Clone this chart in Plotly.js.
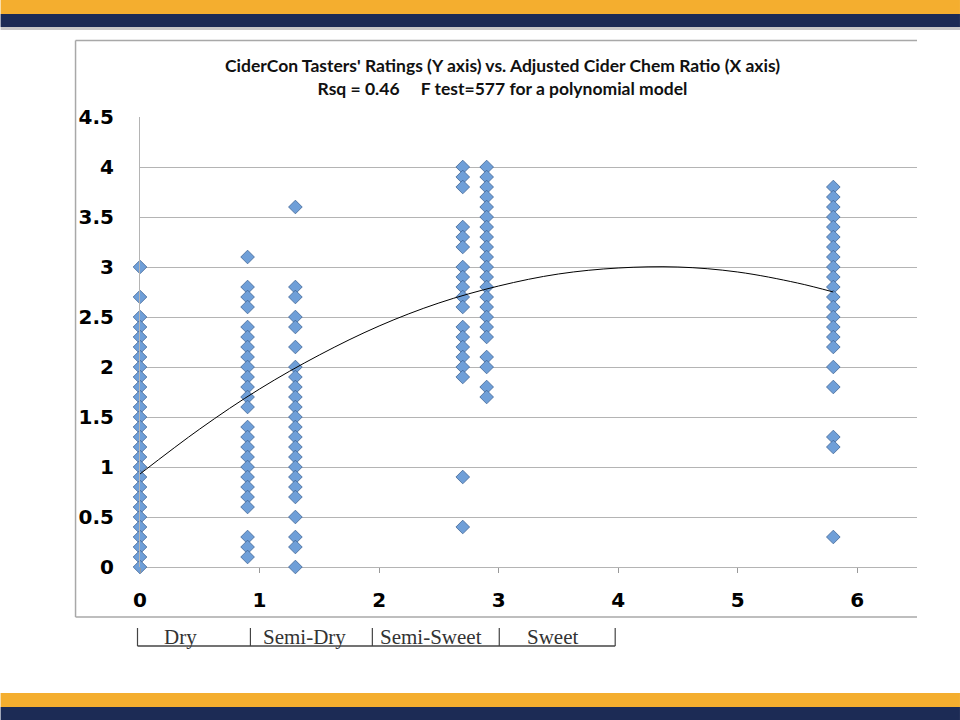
<!DOCTYPE html>
<html>
<head>
<meta charset="utf-8">
<script src="https://cdn.plot.ly/plotly-3.0.1.min.js"></script>
<style>html,body{margin:0;padding:0;background:#fff;}#chart{width:960px;height:720px;}</style>
</head>
<body>
<div id="chart"></div>
<script>
// Column positions (Adjusted Cider Chem Ratio) and tasters' ratings
const ratio0 = 0;
const ratings0 = [3.0,2.7,2.5,2.4,2.3,2.2,2.1,2.0,1.9,1.8,1.7,1.6,1.5,1.4,1.3,1.2,1.1,1.0,0.9,0.8,0.7,0.6,0.5,0.4,0.3,0.2,0.1,0.0];
const ratio1 = 0.9;
const ratings1 = [3.1,2.8,2.7,2.6,2.4,2.3,2.2,2.1,2.0,1.9,1.8,1.7,1.6,1.4,1.3,1.2,1.1,1.0,0.9,0.8,0.7,0.6,0.3,0.2,0.1];
const ratio2 = 1.3;
const ratings2 = [3.6,2.8,2.7,2.5,2.4,2.2,2.0,1.9,1.8,1.7,1.6,1.5,1.4,1.3,1.2,1.1,1.0,0.9,0.8,0.7,0.5,0.3,0.2,0.0];
const ratio3 = 2.7;
const ratings3 = [4.0,3.9,3.8,3.4,3.3,3.2,3.0,2.9,2.8,2.7,2.6,2.4,2.3,2.2,2.1,2.0,1.9,0.9,0.4];
const ratio4 = 2.9;
const ratings4 = [4.0,3.9,3.8,3.7,3.6,3.5,3.4,3.3,3.2,3.1,3.0,2.9,2.8,2.7,2.6,2.5,2.4,2.3,2.1,2.0,1.8,1.7];
const ratio5 = 5.8;
const ratings5 = [3.8,3.7,3.6,3.5,3.4,3.3,3.2,3.1,3.0,2.9,2.8,2.7,2.6,2.5,2.4,2.3,2.2,2.0,1.8,1.3,1.2,0.3];

// Polynomial trend line
const trendX = [0,0.5,1,1.5,2,2.5,3,3.5,4,4.5,5,5.5,5.8];
const trendY = [0.93,1.38,1.78,2.12,2.41,2.64,2.81,2.93,2.99,3.0,2.95,2.84,2.75];

// Tick labels
const xTicks = [0,1,2,3,4,5,6];
const yTicks = [0,0.5,1,1.5,2,2.5,3,3.5,4,4.5];
const yTickText = ['0','0.5','1','1.5','2','2.5','3','3.5','4','4.5'];

// Sweetness category labels under the axis
const categoryLabels = ['Dry','Semi-Dry','Semi-Sweet','Sweet'];

const groups = [[ratio0,ratings0],[ratio1,ratings1],[ratio2,ratings2],[ratio3,ratings3],[ratio4,ratings4],[ratio5,ratings5]];
const xs = [], ys = [];
groups.forEach(g => g[1].forEach(v => { xs.push(g[0]); ys.push(v); }));

// pixel helpers for decoration (plot area: x 139.5..917, y 117..567)
const L = 139.5, R = 917, T = 117, B = 567;
const px = p => (p - L) / (R - L);
const py = p => (B - p) / (B - T);

const shapes = [
  {type:'rect', xref:'paper', yref:'paper', x0:px(0), x1:px(960), y0:py(14), y1:py(-2), fillcolor:'#F4AE2F', line:{width:0}, layer:'below'},
  {type:'rect', xref:'paper', yref:'paper', x0:px(0), x1:px(960), y0:py(27), y1:py(14), fillcolor:'#1C2B55', line:{width:0}, layer:'below'},
  {type:'rect', xref:'paper', yref:'paper', x0:px(0), x1:px(960), y0:py(30), y1:py(27), fillcolor:'#c8c8c8', line:{width:0}, layer:'below'},
  {type:'rect', xref:'paper', yref:'paper', x0:px(0), x1:px(960), y0:py(707), y1:py(693), fillcolor:'#F4AE2F', line:{width:0}, layer:'below'},
  {type:'rect', xref:'paper', yref:'paper', x0:px(0), x1:px(960), y0:py(722), y1:py(707), fillcolor:'#1C2B55', line:{width:0}, layer:'below'},
  {type:'line', xref:'paper', yref:'paper', x0:px(75), x1:px(917), y0:py(40.5), y1:py(40.5), line:{color:'#a8a8a8', width:1.5}},
  {type:'line', xref:'paper', yref:'paper', x0:px(75), x1:px(75), y0:py(40.5), y1:py(617), line:{color:'#a8a8a8', width:1.5}},
  {type:'line', xref:'paper', yref:'paper', x0:px(75), x1:px(917), y0:py(617), y1:py(617), line:{color:'#a8a8a8', width:1.5}},
  {type:'line', xref:'paper', yref:'paper', x0:px(137), x1:px(615), y0:py(646), y1:py(646), line:{color:'#444', width:1.5}},
];
[137,250,372,499,615].forEach(x => shapes.push({type:'line', xref:'paper', yref:'paper', x0:px(x), x1:px(x), y0:py(628), y1:py(646), line:{color:'#444', width:1.2}}));

const labelCenters = [180, 304, 431, 552];
const annotations = categoryLabels.map((t,i) => ({
  text: t, xref:'paper', yref:'paper', x: px(labelCenters[i]), y: py(637), xanchor:'center', yanchor:'middle',
  showarrow:false, font:{family:'Liberation Serif, serif', size:21, color:'#333'}
}));
annotations.push({
  text: "<b>CiderCon Tasters' Ratings (Y axis) vs. Adjusted Cider Chem Ratio (X axis)</b><br><b>Rsq = 0.46\u00a0\u00a0\u00a0\u00a0 F test=577 for a polynomial model</b>",
  xref:'paper', yref:'paper', x: px(502), y: py(77), xanchor:'center', yanchor:'middle', showarrow:false,
  font:{family:'Lato, sans-serif', size:17.5, color:'#111'}, align:'center'
});

const data = [
  {type:'scatter', mode:'markers', x: xs, y: ys, cliponaxis:false,
   marker:{symbol:'diamond', size:10.5, color:'#6F9FD8', line:{color:'#3f6496', width:0.8}}, hoverinfo:'x+y'},
  {type:'scatter', mode:'lines', x: trendX, y: trendY, line:{color:'#000', width:1, shape:'spline'}, hoverinfo:'skip'}
];

const tickFont = {family:'DejaVu Sans, sans-serif', size:20, color:'#000', weight:'bold'};
const layout = {
  width:960, height:720,
  margin:{l:L, r:960-R, t:T, b:720-B, pad:0},
  paper_bgcolor:'#fff', plot_bgcolor:'#fff',
  showlegend:false,
  font:{family:'DejaVu Sans, sans-serif'},
  xaxis:{range:[0,6.5], tickvals:xTicks, ticktext:xTicks.map(String), showgrid:false, zeroline:false,
    showline:false, ticks:'outside', ticklen:5, tickcolor:'#999', tickwidth:1,
    ticklabelstandoff:10, tickfont:tickFont, fixedrange:true},
  yaxis:{range:[0,4.5], tickvals:yTicks, ticktext:yTickText, showgrid:true, gridcolor:'#b4b4b4', gridwidth:1,
    zeroline:true, zerolinecolor:'#b4b4b4', zerolinewidth:1, showline:true, linecolor:'#b4b4b4', linewidth:1,
    ticks:'', ticklabelstandoff:21, tickfont:tickFont, fixedrange:true},
  shapes: shapes,
  annotations: annotations
};

Plotly.newPlot('chart', data, layout, {displayModeBar:false, staticPlot:true});
</script>
</body>
</html>
